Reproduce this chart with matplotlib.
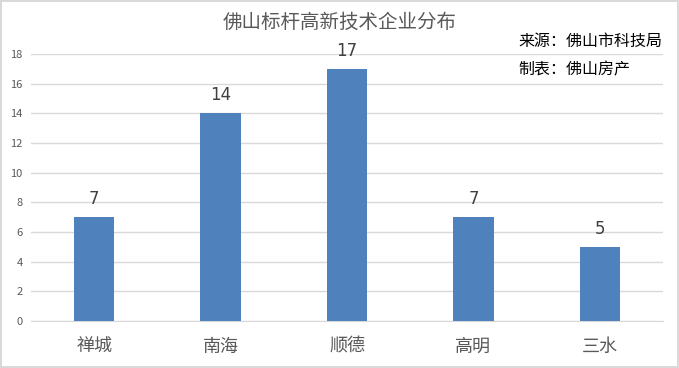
import matplotlib
matplotlib.use("Agg")
import matplotlib.pyplot as plt

plt.rcParams["font.family"] = ["Noto Sans CJK SC", "DejaVu Sans"]

# data
districts = ["禅城", "南海", "顺德", "高明", "三水"]
counts = [7, 14, 17, 7, 5]
y_ticks = [0, 2, 4, 6, 8, 10, 12, 14, 16, 18]

title = "佛山标杆高新技术企业分布"
source = "来源：佛山市科技局"
maker = "制表：佛山房产"

fig = plt.figure(figsize=(6.79, 3.68), dpi=100)
fig.patch.set_edgecolor("#D9D9D9")
fig.patch.set_linewidth(1.5)
ax = fig.add_axes([0.0457, 0.1277, 0.9307, 0.7256])

x = range(len(districts))
ax.bar(x, counts, width=0.32, color="#4F81BD", zorder=3)
for xi, v in zip(x, counts):
    ax.text(xi, v + 0.6, str(v), ha="center", va="bottom",
            fontsize=12, color="#404040", family="DejaVu Sans")

ax.set_xlim(-0.5, len(districts) - 0.5)
ax.set_ylim(0, 18)
ax.set_yticks(y_ticks)
ax.set_yticklabels([str(t) for t in y_ticks], fontsize=8, color="#595959")
ax.set_xticks(list(x))
ax.set_xticklabels(districts, fontsize=13, color="#595959")
ax.tick_params(axis="both", length=0)
ax.tick_params(axis="x", pad=12)
ax.tick_params(axis="y", pad=6)
ax.grid(axis="y", color="#D9D9D9", linewidth=1, zorder=0)
for s in ["top", "right", "left"]:
    ax.spines[s].set_visible(False)
ax.spines["bottom"].set_color("#D9D9D9")

fig.text(0.5, 0.94, title, ha="center", va="center", fontsize=14, color="#595959")
fig.text(0.764, 0.888, source, ha="left", va="center", fontsize=11.5, color="#000000")
fig.text(0.764, 0.81, maker, ha="left", va="center", fontsize=11.5, color="#000000")

fig.savefig("out.png", dpi=100)
